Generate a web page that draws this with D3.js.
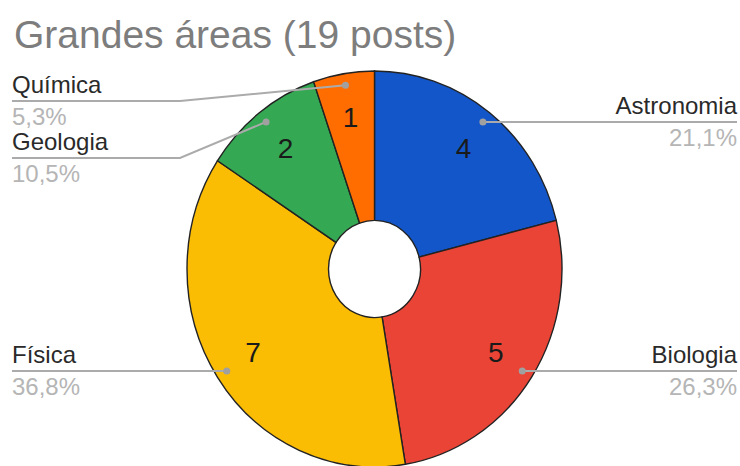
<!DOCTYPE html>
<html>
<head>
<meta charset="utf-8">
<script src="https://cdn.jsdelivr.net/npm/d3@7"></script>
<style>
  html, body { margin: 0; padding: 0; background: #fff; }
  svg { display: block; }
  text { font-family: "Liberation Sans", Arial, sans-serif; }
</style>
</head>
<body>
<svg id="chart" width="740" height="466"></svg>
<script>
// ---- data ----
const titleText = "Grandes áreas (19 posts)";
const categories = ["Astronomia", "Biologia", "Física", "Geologia", "Química"];
const values = [4, 5, 7, 2, 1];
const percentLabels = ["21,1%", "26,3%", "36,8%", "10,5%", "5,3%"];
const colors = ["#1356c9", "#e94436", "#fbbc04", "#34a853", "#ff6d01"];

// ---- layout ----
const W = 740, H = 466;
const cx = 374.5, cy = 269;
const R = 187.5, r0 = 46;
const ky = 1.056;           // vertical stretch seen in the reference
const labelR = 145, dotR = 176.5;

const svg = d3.select("#chart");

svg.append("text")
  .attr("x", 14).attr("y", 48)
  .attr("font-size", 39)
  .attr("fill", "#7d7d7d")
  .text(titleText);

const data = categories.map((c, i) => ({ name: c, value: values[i], pct: percentLabels[i], color: colors[i] }));
const pie = d3.pie().value(d => d.value).sort(null);
const arcs = pie(data);

const arc = d3.arc().innerRadius(r0).outerRadius(R);
const labelArc = d3.arc().innerRadius(labelR).outerRadius(labelR);
const dotArc = d3.arc().innerRadius(dotR).outerRadius(dotR);

const toScreen = p => [cx + p[0], cy + p[1] * ky];

const g = svg.append("g").attr("transform", `translate(${cx},${cy}) scale(1,${ky})`);
g.selectAll("path.slice").data(arcs).join("path")
  .attr("class", "slice")
  .attr("d", arc)
  .attr("fill", d => d.data.color)
  .attr("stroke", "#222")
  .attr("stroke-width", 1.4)
  .attr("vector-effect", "non-scaling-stroke");

// value labels
svg.selectAll("text.val").data(arcs).join("text")
  .attr("class", "val")
  .attr("x", d => toScreen(labelArc.centroid(d))[0])
  .attr("y", d => toScreen(labelArc.centroid(d))[1])
  .attr("text-anchor", "middle")
  .attr("dominant-baseline", "central")
  .attr("font-size", 28)
  .attr("fill", "#1a1a1a")
  .text(d => d.data.value);

// leader labels
const items = arcs.map(d => {
  const p = toScreen(dotArc.centroid(d));
  const mid = (d.startAngle + d.endAngle) / 2;
  return { d, dot: p, side: mid < Math.PI ? "right" : "left", ly: p[1] };
});
const minY = 101, gap = 57;
["left", "right"].forEach(side => {
  const s = items.filter(it => it.side === side).sort((a, b) => a.dot[1] - b.dot[1]);
  let prev = -Infinity;
  s.forEach(it => {
    it.ly = Math.max(it.dot[1], minY, prev + gap);
    prev = it.ly;
  });
});

const leftX = 12, rightX = 737, bendL = 180, bendR = 2 * cx - 180;
const line = d3.line();
svg.selectAll("path.leader").data(items).join("path")
  .attr("class", "leader")
  .attr("d", it => it.side === "left"
    ? line([[leftX, it.ly], [bendL, it.ly], it.dot])
    : line([[rightX, it.ly], [bendR, it.ly], it.dot]))
  .attr("fill", "none")
  .attr("stroke", "#ababab")
  .attr("stroke-width", 2);

svg.selectAll("circle.dot").data(items).join("circle")
  .attr("class", "dot")
  .attr("cx", it => it.dot[0]).attr("cy", it => it.dot[1])
  .attr("r", 3.5)
  .attr("fill", "#a0a0a0");

svg.selectAll("text.name").data(items).join("text")
  .attr("class", "name")
  .attr("x", it => it.side === "left" ? leftX : rightX)
  .attr("y", it => it.ly - 8)
  .attr("text-anchor", it => it.side === "left" ? "start" : "end")
  .attr("font-size", 24)
  .attr("fill", "#2a2a2a")
  .text(it => it.d.data.name);

svg.selectAll("text.pct").data(items).join("text")
  .attr("class", "pct")
  .attr("x", it => it.side === "left" ? leftX : rightX)
  .attr("y", it => it.ly + 24)
  .attr("text-anchor", it => it.side === "left" ? "start" : "end")
  .attr("font-size", 24)
  .attr("fill", "#b5b5b5")
  .text(it => it.d.data.pct);
</script>
</body>
</html>
